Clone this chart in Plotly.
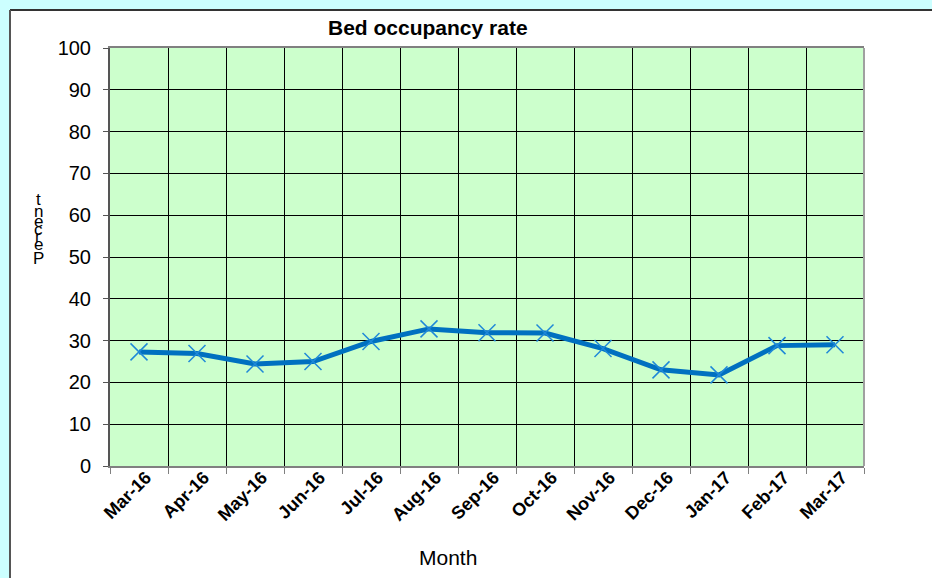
import plotly.graph_objects as go

months = ["Mar-16", "Apr-16", "May-16", "Jun-16", "Jul-16", "Aug-16", "Sep-16",
          "Oct-16", "Nov-16", "Dec-16", "Jan-17", "Feb-17", "Mar-17"]
occupancy = [27.3, 26.9, 24.4, 25.0, 29.8, 32.8, 31.9, 31.8, 28.1, 23.0, 21.8, 28.8, 29.0]
y_ticks = [0, 10, 20, 30, 40, 50, 60, 70, 80, 90, 100]
ylabel_letters = ["t", "n", "e", "c", "r", "e", "P"]

W, H = 932, 578
L, R, T, B = 110, 864, 48, 466

def px(x):
    return (x - L) / (R - L)

def py(y):
    return (B - y) / (B - T)

fig = go.Figure()
fig.add_trace(go.Scatter(
    x=months, y=occupancy, mode="lines+markers",
    line=dict(color="#0070C0", width=5),
    marker=dict(symbol="x-thin", size=17, color="#1E88D8",
                line=dict(color="#1E88D8", width=1.5)),
    showlegend=False,
))

shapes = [
    dict(type="rect", xref="paper", yref="paper", x0=px(0), x1=px(W), y0=py(10), y1=py(0),
         fillcolor="#CCFFFF", line=dict(width=0), layer="below"),
    dict(type="rect", xref="paper", yref="paper", x0=px(0), x1=px(10), y0=py(H), y1=py(0),
         fillcolor="#CCFFFF", line=dict(width=0), layer="below"),
    dict(type="line", xref="paper", yref="paper", x0=px(10), x1=px(W), y0=py(10), y1=py(10),
         line=dict(color="#333333", width=2)),
    dict(type="line", xref="paper", yref="paper", x0=px(10), x1=px(10), y0=py(10), y1=py(H),
         line=dict(color="#555555", width=2)),
    dict(type="line", xref="paper", yref="paper", x0=1, x1=1, y0=0, y1=1,
         line=dict(color="#A0A0A0", width=2)),
]

annotations = [
    dict(text="<b>Bed occupancy rate</b>", xref="paper", yref="paper", x=px(428), y=py(28),
         showarrow=False, font=dict(family="Liberation Sans, Arial", size=21, color="black"),
         xanchor="center", yanchor="middle"),
    dict(text="Month", xref="paper", yref="paper", x=px(448), y=py(557),
         showarrow=False, font=dict(family="Liberation Sans, Arial", size=21, color="black"),
         xanchor="center", yanchor="middle"),
]
letter_y = [199, 211, 221, 229, 236, 244, 258]
for ch, yy in zip(ylabel_letters, letter_y):
    annotations.append(dict(text=ch, xref="paper", yref="paper", x=px(38), y=py(yy),
                            showarrow=False, xanchor="center", yanchor="middle",
                            font=dict(family="Liberation Sans, Arial", size=17, color="black")))

fig.update_layout(
    width=W, height=H,
    margin=dict(l=L, r=W - R, t=T, b=H - B),
    paper_bgcolor="white",
    plot_bgcolor="#CCFFCC",
    font=dict(family="Liberation Sans, Arial", color="black"),
    shapes=shapes,
    annotations=annotations,
    xaxis=dict(
        type="category", categoryorder="array", categoryarray=months,
        tickson="boundaries", showgrid=True, gridcolor="black", gridwidth=1,
        ticks="outside", ticklen=6, tickcolor="#808080",
        showline=True, linecolor="#808080", linewidth=2, mirror=True,
        tickangle=-45, tickfont=dict(size=18, family="Liberation Sans, Arial"),
        tickprefix="<b>", ticksuffix="</b>", zeroline=False,
        ticklabelshift=7, ticklabelstandoff=-8,
        range=[-0.5, len(months) - 0.5],
    ),
    yaxis=dict(
        range=[0, 100], tickvals=y_ticks, showgrid=True, gridcolor="black", gridwidth=1,
        ticks="outside", ticklen=5, tickcolor="#555555",
        showline=True, linecolor="#555555", linewidth=2,
        tickfont=dict(size=20, family="Liberation Sans, Arial"), zeroline=False,
        ticklabelstandoff=8,
    ),
)

fig.write_html("out.html", config={"displayModeBar": False},
               post_script="document.body.style.margin='0';document.body.style.overflow='hidden';")
